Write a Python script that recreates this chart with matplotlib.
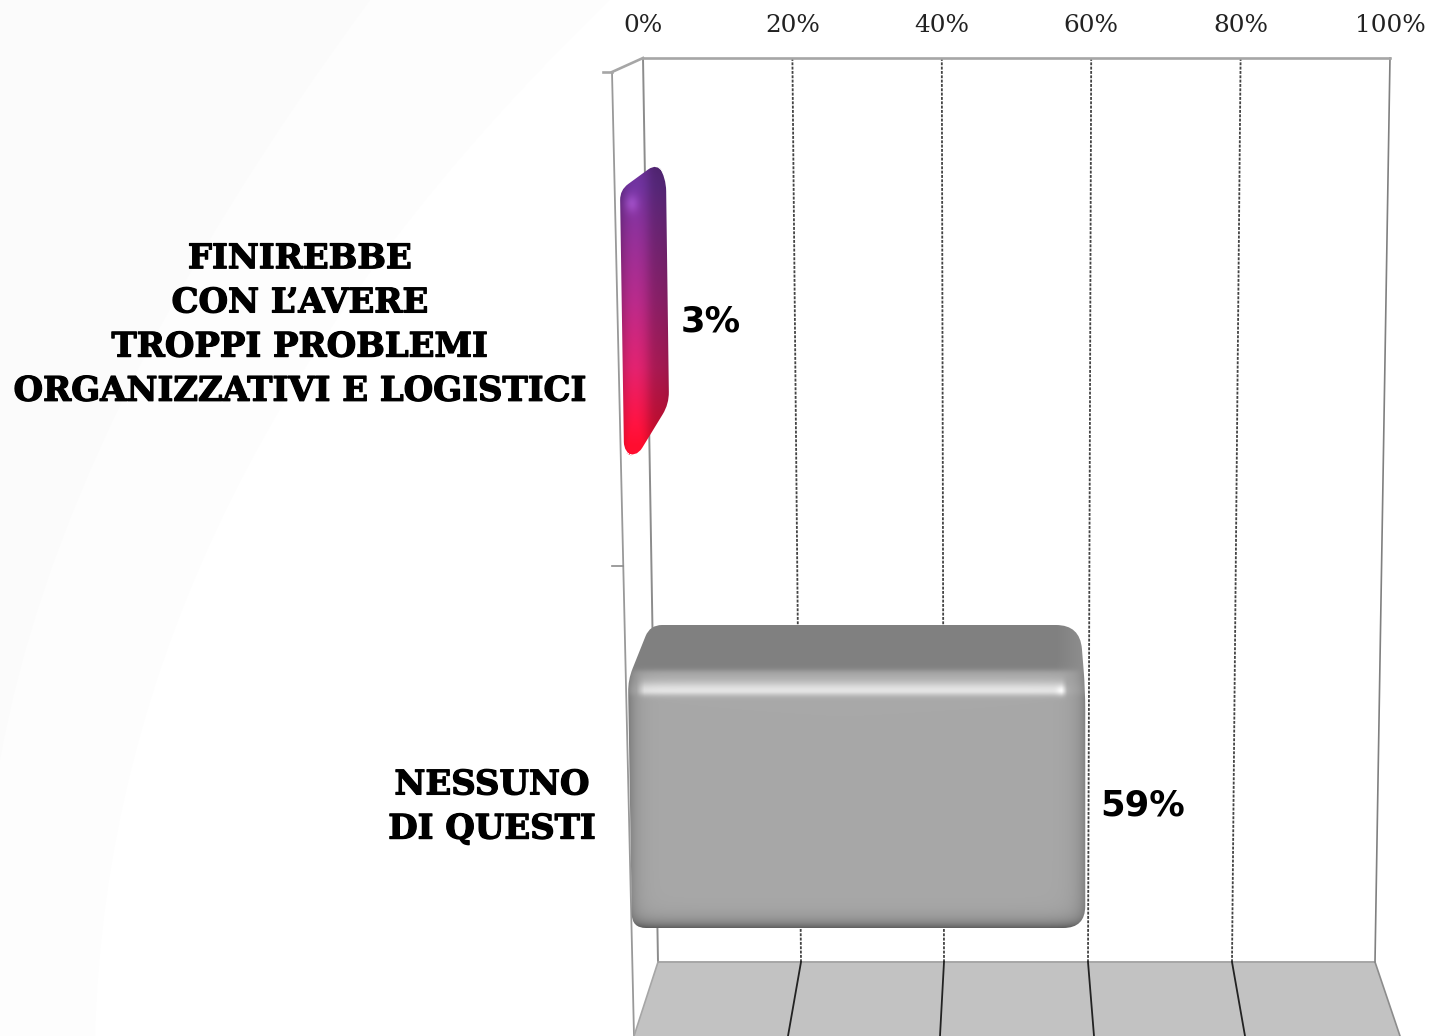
import numpy as np
import matplotlib
matplotlib.use('Agg')
import matplotlib.pyplot as plt
import matplotlib.patheffects as pe
from matplotlib.path import Path
from matplotlib.patches import PathPatch, Polygon

# dati
categories = ['FINIREBBE\nCON L\u2019AVERE\nTROPPI PROBLEMI\nORGANIZZATIVI E LOGISTICI', 'NESSUNO\nDI QUESTI']
values = [3, 59]
value_labels = ['3%', '59%']
ticks = [0, 20, 40, 60, 80, 100]
tick_labels = ['0%', '20%', '40%', '60%', '80%', '100%']

W, H = 1430, 1036
X0, X100, TOP = 643, 1390, 58
SCALE = (X100 - X0) / 100


def px(x):
    # pixel orizzontale -> unita' dell'asse (percentuale)
    return (x - X0) / SCALE


def rounded(points, radii):
    # poligono chiuso con angoli arrotondati
    verts, codes = [], []
    n = len(points)
    for i in range(n):
        p = np.array(points[i], float)
        a = np.array(points[i - 1], float)
        b = np.array(points[(i + 1) % n], float)
        r = radii[i]
        p1 = p + (a - p) / np.linalg.norm(a - p) * r
        p2 = p + (b - p) / np.linalg.norm(b - p) * r
        verts += [p1, p, p2]
        codes += [Path.MOVETO if i == 0 else Path.LINETO, Path.CURVE3, Path.CURVE3]
    verts.append(verts[0])
    codes.append(Path.CLOSEPOLY)
    verts = [(px(v[0]), v[1]) for v in verts]
    return Path(verts, codes)


def show_clipped(rgb, x0, x1, y0, y1, path, z):
    patch = PathPatch(path, facecolor='none', edgecolor='none', clip_on=False, zorder=z)
    ax.add_patch(patch)
    im = ax.imshow(np.clip(rgb, 0, 1), extent=(px(x0), px(x1), y1, y0), aspect='auto',
                   interpolation='bilinear', zorder=z)
    im.set_clip_box(fig.bbox)
    im.set_clip_path(patch)


def curve_region(p0, c, p1, col):
    # zona di sfondo delimitata da una curva, chiusa sull'angolo in alto a sinistra
    verts = [(px(x), y) for x, y in [p0, c, p1, (0, H), (0, 0), p0]]
    codes = [Path.MOVETO, Path.CURVE3, Path.CURVE3, Path.LINETO, Path.LINETO, Path.CLOSEPOLY]
    ax.add_patch(PathPatch(Path(verts, codes), fc=col, ec='none', clip_on=False, zorder=0))


fig = plt.figure(figsize=(W / 100, H / 100), dpi=100, facecolor='white')
ax = fig.add_axes([X0 / W, 0, (X100 - X0) / W, 1 - TOP / H])
ax.set_xlim(0, 100)
ax.set_ylim(H, TOP)
ax.patch.set_alpha(0)
for s in ax.spines.values():
    s.set_visible(False)
ax.set_yticks([])
ax.xaxis.tick_top()
ax.set_xticks(ticks)
ax.set_xticklabels(tick_labels, family='DejaVu Serif', fontsize=17.8, color='#222222')
ax.tick_params(axis='x', length=0, pad=15)

# sfondo molto chiaro a sinistra
curve_region((610, 0), (110, 480), (95, 1036), '#fdfdfd')
curve_region((370, 0), (60, 420), (0, 760), '#fbfbfb')

# pavimento
floor_front = [634, 788, 940, 1094, 1245, 1400]
floor_back = [658, 801, 944, 1088, 1232, 1375]
ax.add_patch(Polygon([(px(floor_back[0]), 962), (px(floor_back[-1]), 962), (px(floor_front[-1]), H), (px(floor_front[0]), H)],
                     closed=True, fc='#c2c2c2', ec='none', clip_on=False, zorder=1))
ax.plot([px(floor_back[0]), px(floor_back[-1])], [962, 962], color='#a6a6a6', lw=1.4, zorder=2, clip_on=False)
for t, fb, ff in zip(ticks, floor_back, floor_front):
    # griglia sul fondo
    style = dict(color='#444444', lw=1.3, ls=(0, (1.6, 0.8)), zorder=2, clip_on=False)
    if t == 0:
        style = dict(color='#8c8c8c', lw=1.4, zorder=2, clip_on=False)
    if t == 100:
        style = dict(color='#808080', lw=1.2, zorder=2, clip_on=False)
    ax.plot([t, px(fb)], [TOP, 962], **style)
    if t == 0:
        ax.plot([px(fb), px(ff)], [962, H], color='#a6a6a6', lw=1.2, zorder=3, clip_on=False)
    elif t == 100:
        ax.plot([px(fb), px(ff)], [962, H], color='#8c8c8c', lw=1.2, zorder=3, clip_on=False)
    else:
        ax.plot([px(fb), px(ff)], [962, H], color='#222222', lw=1.3, zorder=3, clip_on=False)

# parete sinistra e bordo superiore
gray = dict(color='#a6a6a6', lw=1.9, clip_on=False, zorder=2)
ax.plot([0, 100], [TOP, TOP], **gray)
ax.plot([px(612), 0], [72, TOP], **gray)
ax.plot([px(612), px(634)], [72, H], color='#999999', lw=1.3, clip_on=False, zorder=2)
ax.plot([px(603), px(612)], [72, 72], **gray)
ax.plot([px(612), px(623)], [566, 566], color='#8c8c8c', lw=1.2, clip_on=False, zorder=2)

# barra viola/rossa
base, step = 625, 7.75
xr = base + values[0] * step
X, Y = np.meshgrid(np.arange(612, 680), np.arange(160, 462))
t = np.clip((Y - 185) / 260, 0, 1)
stops = np.array([[0.44, 0.20, 0.62], [0.70, 0.16, 0.52], [0.85, 0.13, 0.42], [1.0, 0.05, 0.18]])
col = np.stack([np.interp(t, [0, 0.45, 0.7, 1], stops[:, k]) for k in range(3)], axis=-1)
side = 0.5 + 0.5 * np.tanh((X - xr) / 6)
shade = 1 - 0.24 * side - 0.18 * np.exp(-np.clip(X - 620, 0, None) / 5)
shade = shade - 0.06 * np.exp(-np.clip(xr + 20 - X, 0, None) / 3) + 0.06 * np.exp(-((X - 634) / 9.0) ** 2)
rgb = col * shade[..., None]
rgb = rgb * (1 - 0.10 * np.exp(-np.clip(Y - 166, 0, None) / 14))[..., None]
glow = np.exp(-((X - 631) ** 2 + ((Y - 203) / 1.3) ** 2) / 50)[..., None]
rgb = rgb + glow * np.array([0.12, 0.10, 0.14])
path = rounded([(657, 163), (666, 178), (669, 404), (636, 458), (624, 452), (620, 190)], [11, 13, 12, 12, 10, 10])
show_clipped(rgb, 612, 680, 160, 462, path, 5)

# barra grigia
base = 628
xr = base + values[1] * step
yt, yb = 670, 928
X, Y = np.meshgrid(np.arange(622, 1092), np.arange(620, 934))
v = np.full(X.shape, 168.0)
v -= 45 * np.exp(-np.clip(X - base, 0, None) / 8.0)
v -= 40 * np.exp(-np.clip(xr - X, 0, None) / 9.0)
v -= 80 * np.exp(-np.clip(yb - Y, 0, None) / 7.0)
dy = Y - (yt + 20.0)
band = np.exp(-(dy / np.where(dy < 0, 9.0, 5.0)) ** 2)
band = band * np.clip((xr - 18 - X) / 6.0, 0.1, 1) * np.clip((X - base - 6) / 10.0, 0.2, 1)
v += 60 * band
v += 25 * np.exp(-((X - (xr - 24)) ** 2 + (Y - (yt + 20)) ** 2) / 25)
# faccia superiore
top = 128 + np.clip(X - xr + 30, 0, None) * 0.5
blend = 0.5 + 0.5 * np.tanh((Y - yt) / 3.0)
v = top * (1 - blend) + v * blend
rgb = np.repeat((v / 255)[..., None], 3, axis=2)
path = rounded([(650, 625), (1080, 625), (xr, 690), (xr, 928), (632, 928), (628, 680)], [12, 24, 20, 22, 14, 12])
show_clipped(rgb, 622, 1092, 620, 934, path, 5)

# etichette
thick = [pe.withStroke(linewidth=0.9, foreground='black')]
serif = dict(family='DejaVu Serif', weight='bold', fontsize=24.4, color='black', ha='center', va='center',
             clip_on=False, path_effects=thick)
ax.text(px(300), 325, categories[0], linespacing=1.43, **serif)
ax.text(px(492), 807, categories[1], linespacing=1.43, **serif)
sans = dict(family='DejaVu Sans', weight='bold', fontsize=25.5, color='black', ha='left', va='center', clip_on=False)
ax.text(px(681), 322, value_labels[0], **sans)
ax.text(px(1100), 806, value_labels[1], **sans)

fig.savefig('out.png', dpi=100)
